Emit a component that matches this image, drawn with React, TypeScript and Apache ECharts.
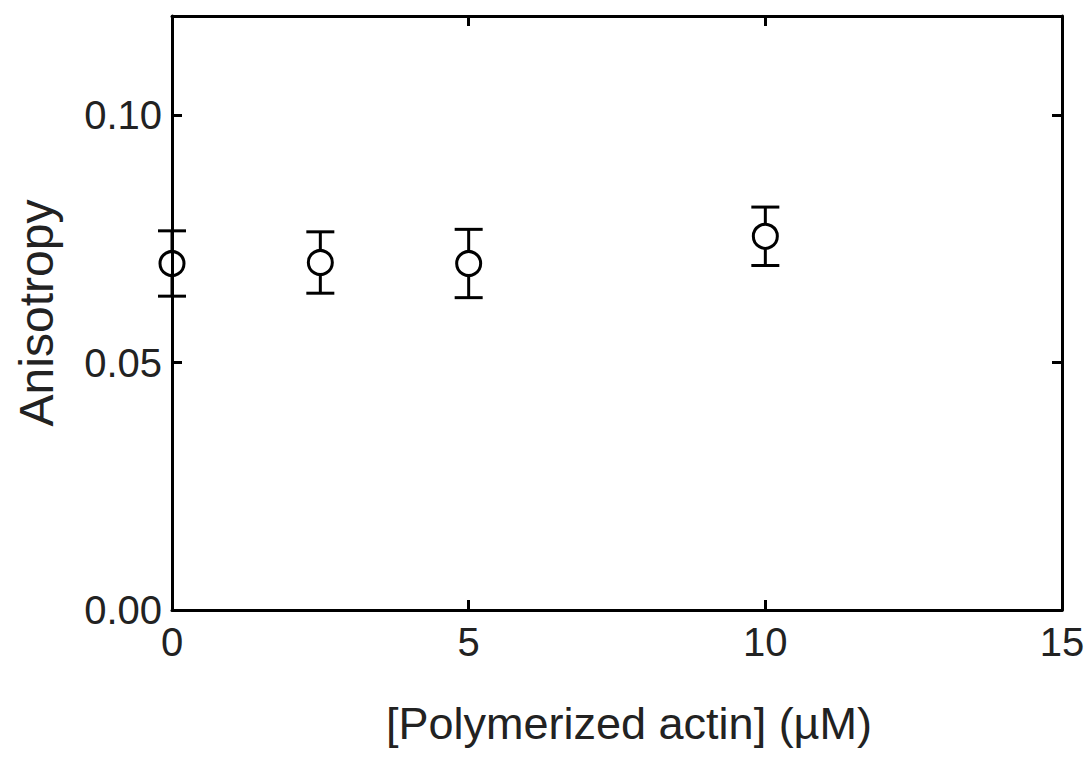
import React, { useEffect, useRef } from "react";
import * as echarts from "echarts";

// Polymerized actin concentration (µM) and measured anisotropy
const actin = [0, 2.5, 5, 10];
const anisotropy = [0.070, 0.0702, 0.070, 0.0755];
const anisotropyErr = [0.0066, 0.0062, 0.0069, 0.0059];

const xTicks = [0, 5, 10, 15];
const yTicks = [0.0, 0.05, 0.1];

const FONT = "'Liberation Sans', Arial, Helvetica, sans-serif";
const INK = "#000";
const TEXT = "#222";
const MARK_R = 13;

export default function App() {
  const ref = useRef<HTMLDivElement>(null);

  useEffect(() => {
    if (!ref.current) return;
    const chart = echarts.init(ref.current, null, { renderer: "svg" });

    const points = actin.map((x, i) => [x, anisotropy[i], anisotropyErr[i]]);

    const axisCommon = {
      axisLine: { show: true, onZero: false, lineStyle: { color: INK, width: 3 } },
      axisTick: { show: true, inside: true, length: 10, lineStyle: { color: INK, width: 3 } },
      splitLine: { show: false },
    };

    chart.setOption({
      animation: false,
      backgroundColor: "#fff",
      grid: { left: 172, right: 29, top: 16, bottom: 149, show: false },
      xAxis: [
        {
          type: "value",
          min: xTicks[0],
          max: xTicks[xTicks.length - 1],
          interval: 5,
          position: "bottom",
          ...axisCommon,
          axisLabel: {
            fontFamily: FONT,
            fontSize: 40,
            color: TEXT,
            margin: 12,
          },
          name: "[Polymerized actin] (µM)",
          nameLocation: "middle",
          nameGap: 91,
          nameTextStyle: {
            fontFamily: FONT,
            fontSize: 45,
            color: TEXT,
            padding: [0, 0, 0, 24],
          },
        },
        {
          type: "value",
          min: xTicks[0],
          max: xTicks[xTicks.length - 1],
          interval: 5,
          position: "top",
          ...axisCommon,
          axisLabel: { show: false },
        },
      ],
      yAxis: [
        {
          type: "value",
          min: 0,
          max: 0.12,
          interval: 0.05,
          position: "left",
          ...axisCommon,
          axisLabel: {
            fontFamily: FONT,
            fontSize: 40,
            color: TEXT,
            margin: 10,
            showMaxLabel: false,
            formatter: (v: number) =>
              yTicks.some((t) => Math.abs(t - v) < 1e-9) ? v.toFixed(2) : "",
          },
          name: "Anisotropy",
          nameLocation: "middle",
          nameGap: 112,
          nameTextStyle: { fontFamily: FONT, fontSize: 48, color: TEXT },
        },
        {
          type: "value",
          min: 0,
          max: 0.12,
          interval: 0.05,
          position: "right",
          ...axisCommon,
          axisLabel: { show: false },
        },
      ],
      series: [
        {
          type: "custom",
          xAxisIndex: 0,
          yAxisIndex: 0,
          data: points,
          z: 3,
          renderItem: (params: any, api: any) => {
            const x = api.value(0);
            const y = api.value(1);
            const e = api.value(2);
            const c = api.coord([x, y]);
            const hi = api.coord([x, y + e]);
            const lo = api.coord([x, y - e]);
            const half = 14;
            const style = { stroke: INK, lineWidth: 3 };
            return {
              type: "group",
              children: [
                { type: "line", shape: { x1: c[0], y1: hi[1], x2: c[0], y2: c[1] - MARK_R }, style },
                { type: "line", shape: { x1: c[0], y1: c[1] + MARK_R, x2: c[0], y2: lo[1] }, style },
                { type: "line", shape: { x1: c[0] - half, y1: hi[1], x2: c[0] + half, y2: hi[1] }, style },
                { type: "line", shape: { x1: c[0] - half, y1: lo[1], x2: c[0] + half, y2: lo[1] }, style },
              ],
            };
          },
        },
        {
          type: "scatter",
          xAxisIndex: 0,
          yAxisIndex: 0,
          data: points.map((p) => [p[0], p[1]]),
          symbol: "circle",
          symbolSize: MARK_R * 2 - 2,
          z: 4,
          itemStyle: { color: "rgba(0,0,0,0)", borderColor: INK, borderWidth: 3, opacity: 1 },
        },
      ],
    });

    return () => chart.dispose();
  }, []);

  return (
    <div
      ref={ref}
      style={{ position: "absolute", left: 0, top: 0, width: 1091, height: 759 }}
    />
  );
}
